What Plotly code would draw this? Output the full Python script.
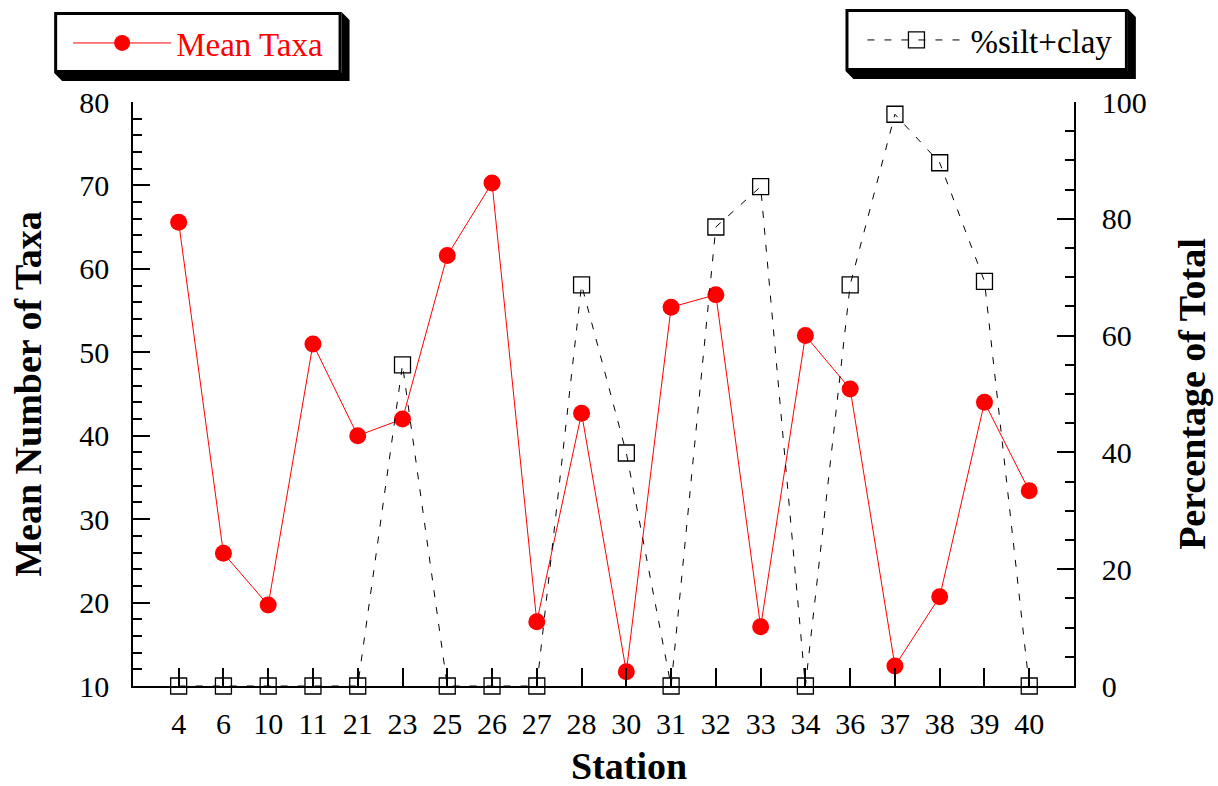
import plotly.graph_objects as go

stations = ["4", "6", "10", "11", "21", "23", "25", "26", "27", "28",
            "30", "31", "32", "33", "34", "36", "37", "38", "39", "40"]
mean_taxa = [65.6, 25.9, 19.7, 51.0, 40.0, 42.0, 61.6, 70.3, 17.7, 42.7,
             11.7, 55.4, 56.9, 17.1, 52.0, 45.6, 12.4, 20.7, 44.0, 33.4]
silt_clay = [0, 0, 0, 0, 0, 55.0, 0, 0, 0, 68.7,
             39.9, 0, 78.6, 85.5, 0, 68.7, 97.9, 89.6, 69.3, 0]

left_ticks = [10, 20, 30, 40, 50, 60, 70, 80]
right_ticks = [0, 20, 40, 60, 80, 100]

FONT = "Liberation Serif, Times New Roman, serif"
W, H = 1218, 786
L, R, T, B = 133, 142, 102, 100
PW, PH = W - L - R, H - T - B


def px(x):
    return (x - L) / PW


def py(y):
    return (H - B - y) / PH


fig = go.Figure()
fig.add_trace(go.Scatter(
    x=stations, y=mean_taxa, name="Mean Taxa", mode="lines+markers",
    line=dict(color="#ff0000", width=1),
    marker=dict(color="#ff0000", size=17, symbol="circle"),
    cliponaxis=False, legend="legend", yaxis="y", showlegend=True,
))
fig.add_trace(go.Scatter(
    x=stations, y=silt_clay, name="%silt+clay", mode="lines+markers",
    line=dict(color="black", width=1, dash="7px,10px"),
    marker=dict(symbol="square-open", size=16, color="black",
                line=dict(color="black", width=1.3)),
    cliponaxis=False, legend="legend2", yaxis="y2", showlegend=True,
))

shapes = []
for (x0, y0, x1, y1) in [(54, 12, 342, 73), (847, 9, 1130, 71)]:
    d = 8
    path = (f"M{px(x0)},{py(y1)} L{px(x0 + d)},{py(y1 + d)} L{px(x1 + d)},{py(y1 + d)} "
            f"L{px(x1 + d)},{py(y0 + d)} L{px(x1)},{py(y0)} L{px(x1)},{py(y1)} Z")
    shapes.append(dict(type="path", xref="paper", yref="paper", path=path,
                       fillcolor="black", line=dict(width=0), layer="above"))
    shapes.append(dict(type="rect", xref="paper", yref="paper",
                       x0=px(x0 + 1.5), x1=px(x1 - 1.5), y0=py(y0 + 1.5), y1=py(y1 - 1.5),
                       fillcolor="white", line=dict(color="black", width=3), layer="above"))

fig.update_layout(
    width=W, height=H,
    margin=dict(l=L, r=R, t=T, b=B),
    paper_bgcolor="white", plot_bgcolor="white",
    font=dict(family=FONT, color="black", size=30),
    shapes=shapes,
    showlegend=True,
    annotations=[dict(
        text="<b>Station</b>", xref="paper", yref="paper",
        x=px(630), y=py(766), xanchor="center", yanchor="middle", showarrow=False,
        font=dict(family=FONT, size=38, color="black"),
    )],
    xaxis=dict(
        type="category", range=[-1.02, 20.0],
        showline=True, linecolor="black", linewidth=1.5,
        ticks="inside", ticklen=18, tickwidth=1.5, tickcolor="black",
        showgrid=False, zeroline=False, ticklabelstandoff=10,
        tickfont=dict(family=FONT, size=30, color="black"),
    ),
    yaxis=dict(
        range=[10, 80], tickvals=left_ticks,
        showline=True, linecolor="black", linewidth=1.5,
        ticks="inside", ticklen=17, tickwidth=1.5, tickcolor="black",
        minor=dict(dtick=2, ticks="inside", ticklen=9, tickwidth=1.5, tickcolor="black"),
        showgrid=False, zeroline=False, ticklabelstandoff=16,
        tickfont=dict(family=FONT, size=30, color="black"),
        title=dict(text="<b>Mean Number of Taxa</b>", font=dict(family=FONT, size=38, color="black"),
                   standoff=26),
    ),
    yaxis2=dict(
        overlaying="y", side="right", anchor="x",
        range=[0, 100], tickvals=right_ticks,
        showline=True, linecolor="black", linewidth=1.5,
        ticks="inside", ticklen=17, tickwidth=1.5, tickcolor="black",
        minor=dict(dtick=5, ticks="inside", ticklen=9, tickwidth=1.5, tickcolor="black"),
        showgrid=False, zeroline=False, ticklabelstandoff=20,
        tickfont=dict(family=FONT, size=30, color="black"),
        title=dict(text="<b>Percentage of Total</b>", font=dict(family=FONT, size=38, color="black"),
                   standoff=33),
    ),
    legend=dict(
        x=px(68), y=py(43), xanchor="left", yanchor="middle",
        bgcolor="rgba(0,0,0,0)", borderwidth=0, itemwidth=98,
        font=dict(family=FONT, size=33, color="#ff0000"),
    ),
    legend2=dict(
        x=px(864), y=py(40), xanchor="left", yanchor="middle",
        bgcolor="rgba(0,0,0,0)", borderwidth=0, itemwidth=98,
        font=dict(family=FONT, size=33, color="black"),
    ),
)

fig.write_html("out.html")
